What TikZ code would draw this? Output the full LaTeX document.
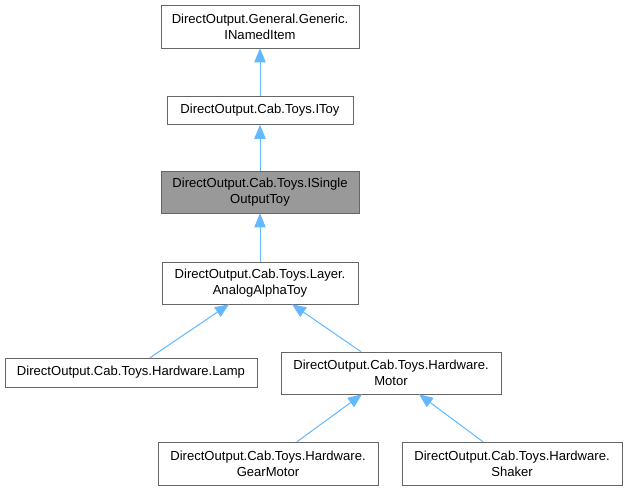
\documentclass[tikz,border=0pt]{standalone}
\usepackage{fontspec}
\setmainfont{Liberation Sans}
\usetikzlibrary{arrows.meta,positioning}
\definecolor{edgeblue}{RGB}{99,184,255}
\definecolor{boxgray}{RGB}{102,102,102}
\definecolor{hilite}{RGB}{153,153,153}

\begin{document}
\begin{tikzpicture}[
        x=0.75pt, y=-0.75pt,
        cls/.style={draw=boxgray, fill=white, inner sep=0pt, align=center,
          font=\fontsize{9.8}{12}\selectfont},
        inherit/.style={{Triangle[length=10.5pt, width=8.5pt]}-, draw=edgeblue, fill=edgeblue, line width=0.75pt}
      ]
      \useasboundingbox (0,0) rectangle (627,491);
      \node[cls, minimum width=0.75*198pt, minimum height=0.75*43pt] (named) at (260,26.5) {DirectOutput.General.Generic.\\INamedItem};
      \node[cls, minimum width=0.75*186pt, minimum height=0.75*28pt] (itoy) at (260,110.5) {DirectOutput.Cab.Toys.IToy};
      \node[cls, fill=hilite, minimum width=0.75*198pt, minimum height=0.75*42pt] (single) at (260,192) {DirectOutput.Cab.Toys.ISingle\\OutputToy};
      \node[cls, minimum width=0.75*196pt, minimum height=0.75*42pt] (analog) at (260,283) {DirectOutput.Cab.Toys.Layer.\\AnalogAlphaToy};
      \node[cls, minimum width=0.75*252pt, minimum height=0.75*29pt] (lamp) at (131,372.5) {DirectOutput.Cab.Toys.Hardware.Lamp};
      \node[cls, minimum width=0.75*220pt, minimum height=0.75*42pt] (motor) at (391,373) {DirectOutput.Cab.Toys.Hardware.\\Motor};
      \node[cls, minimum width=0.75*220pt, minimum height=0.75*43pt] (gear) at (268,463.5) {DirectOutput.Cab.Toys.Hardware.\\GearMotor};
      \node[cls, minimum width=0.75*220pt, minimum height=0.75*43pt] (shaker) at (512,463.5) {DirectOutput.Cab.Toys.Hardware.\\Shaker};

      % inheritance edges, tip at the base class
      \draw[inherit] (named.south) -- (itoy.north);
      \draw[inherit] (itoy.south) -- (single.north);
      \draw[inherit] (single.south) -- (analog.north);
      \draw[inherit] ([xshift=-0.75*31pt]analog.south) -- ([xshift=0.75*19pt]lamp.north);
      \draw[inherit] ([xshift=0.75*32pt]analog.south) -- ([xshift=-0.75*30pt]motor.north);
      \draw[inherit] ([xshift=-0.75*29pt]motor.south) -- ([xshift=0.75*29pt]gear.north);
      \draw[inherit] ([xshift=0.75*28pt]motor.south) -- ([xshift=-0.75*29pt]shaker.north);
    \end{tikzpicture}
\end{document}
